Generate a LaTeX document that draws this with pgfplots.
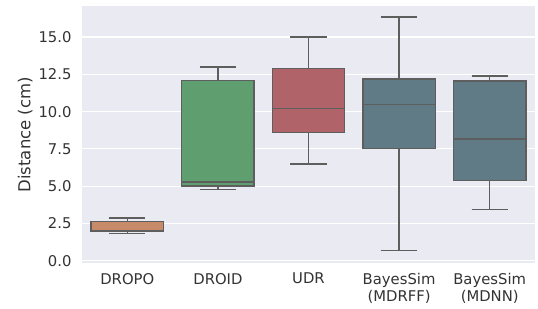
\documentclass[border=0pt]{standalone}
\usepackage{fontspec}
\setmainfont{DejaVu Sans}
\usepackage{pgfplots}
\pgfplotsset{compat=1.18}
\usepgfplotslibrary{statistics}
\definecolor{bg}{HTML}{EAEAF2}
\definecolor{ln}{HTML}{5E5E5E}
\definecolor{txt}{HTML}{333333}
\definecolor{cA}{HTML}{C88B69}
\definecolor{cB}{HTML}{5F9E6E}
\definecolor{cC}{HTML}{B0646A}
\definecolor{cD}{HTML}{607B86}
\pgfplotsset{bx/.style={draw=ln, line width=1.3pt, boxplot/every median/.style={draw=ln, line width=1.5pt}}}
\begin{document}
\begin{tikzpicture}
\begin{axis}[name=ax, scale only axis, width=453pt, height=257.5pt,
  xmin=-0.5, xmax=4.5, ymin=-0.18, ymax=17.08,
  axis background/.style={fill=bg},
  axis line style={draw=none},
  major tick length=0pt,
  ymajorgrids, grid style={white, line width=1.1pt},
  xtick={0,1,2,3,4},
  xticklabels={DROPO, DROID, UDR, {BayesSim\\(MDRFF)}, {BayesSim\\(MDNN)}},
  xticklabel style={align=center, yshift=-6pt},
  ytick={0,2.5,5,7.5,10,12.5,15},
  yticklabel style={xshift=-7pt, /pgf/number format/.cd, fixed, fixed zerofill, precision=1},
  /pgf/number format/assume math mode=true,
  tick label style={font=\fontsize{14.8}{17}\selectfont, text=txt},
  ylabel style={font=\fontsize{16.5}{19}\selectfont, text=txt, at={(axis description cs:0,0.5)}, anchor=south, yshift=46pt},
  ylabel={Distance (cm)},
  boxplot/draw direction=y,
  boxplot/box extend=0.8,
  boxplot/whisker extend=0.4,
]
\addplot[bx, fill=cA, boxplot prepared={draw position=0, lower whisker=1.85, lower quartile=1.95, median=2.0, upper quartile=2.62, upper whisker=2.86}] coordinates {};
\addplot[bx, fill=cB, boxplot prepared={draw position=1, lower whisker=4.78, lower quartile=5.02, median=5.29, upper quartile=12.08, upper whisker=13.0}] coordinates {};
\addplot[bx, fill=cC, boxplot prepared={draw position=2, lower whisker=6.48, lower quartile=8.62, median=10.2, upper quartile=12.88, upper whisker=15.0}] coordinates {};
\addplot[bx, fill=cD, boxplot prepared={draw position=3, lower whisker=0.67, lower quartile=7.52, median=10.49, upper quartile=12.19, upper whisker=16.34}] coordinates {};
\addplot[bx, fill=cD, boxplot prepared={draw position=4, lower whisker=3.42, lower quartile=5.36, median=8.15, upper quartile=12.06, upper whisker=12.39}] coordinates {};
\end{axis}
\pgfresetboundingbox
\path ([shift={(-82pt,-45.5pt)}]ax.south west) rectangle ([shift={(3pt,6pt)}]ax.north east);
\end{tikzpicture}
\end{document}
